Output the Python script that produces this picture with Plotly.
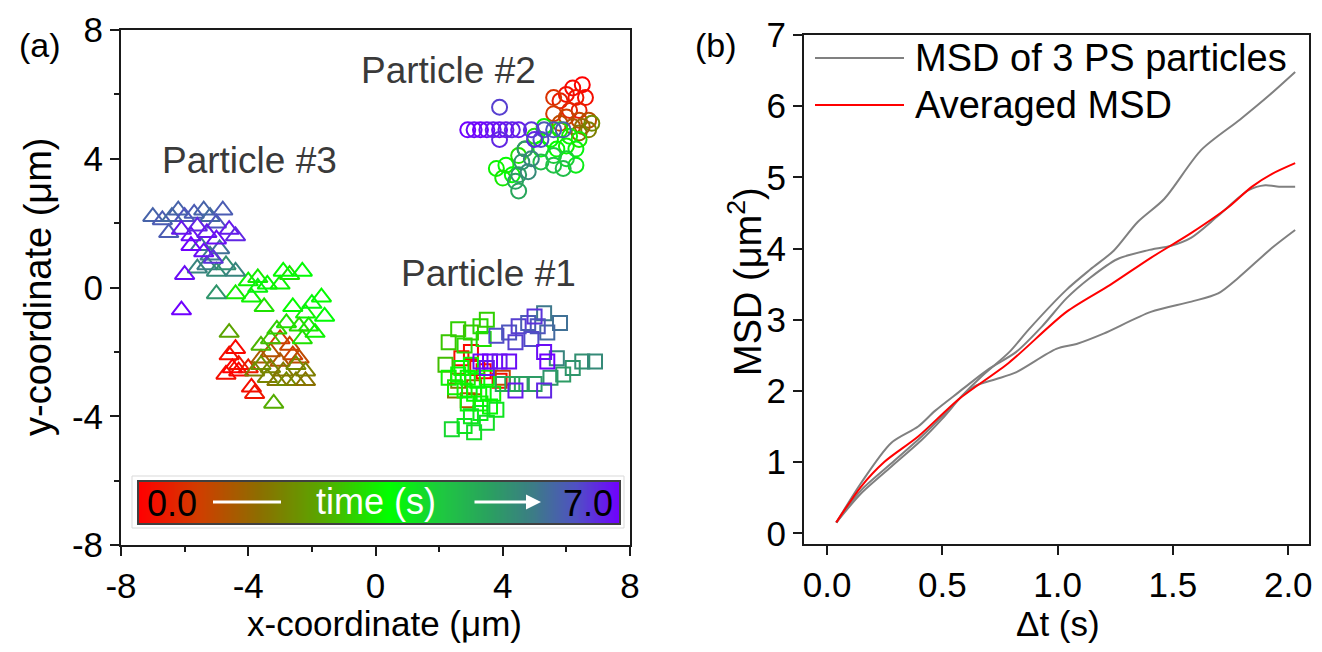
import plotly.graph_objects as go

# page has an 8px body margin; figure is sized so the page fits the window exactly
OFF = 8
W, H = 1322 - 2 * OFF, 652 - 2 * OFF

# ---------------- data: particle trajectories (x, y in um, t in s) ----------------
p1_x = [3.0, 2.7, 3.2, 3.9, 3.4,
        2.5, 2.9, 4.0, 2.6, 3.1,
        2.3, 2.6, 3.0, 3.3, 3.5, 2.8, 2.2, 3.4,
        2.3, 2.6, 2.9, 3.2, 3.5, 2.5, 2.8, 3.1, 3.4, 3.7, 2.9, 3.3, 3.6, 2.7, 3.0,
        3.0, 3.3, 3.5, 2.4, 2.8, 3.1, 3.8,
        4.0, 4.3, 4.6, 5.0, 5.5, 5.9, 6.2, 6.5, 6.9, 5.7,
        5.3, 5.8, 5.4,
        3.8, 4.2, 4.5, 4.8, 5.1, 4.9, 4.4, 5.0,
        3.3, 3.6, 3.9, 4.2, 3.5, 5.3, 5.4, 4.4, 5.3]
p1_y = [-2.0, -2.2, -2.5, -2.9, -2.6,
        -3.2, -3.5, -2.8, -2.9, -3.1,
        -1.7, -1.3, -1.4, -1.2, -1.0, -1.8, -2.4, -1.6,
        -2.8, -2.7, -2.8, -2.9, -2.8, -3.1, -3.2, -3.3, -3.3, -3.3, -3.6, -3.6, -3.7, -2.5, -2.4,
        -4.0, -3.9, -4.2, -4.4, -4.3, -4.5, -3.8,
        -3.0, -3.0, -3.0, -3.0, -2.8, -2.7, -2.5, -2.3, -2.3, -2.2,
        -0.8, -1.1, -1.4,
        -1.5, -1.4, -1.2, -1.1, -1.2, -1.6, -1.7, -0.9,
        -2.3, -2.3, -2.3, -2.3, -2.5, -2.0, -2.3, -3.2, -3.2]
p1_t = [0.1, 0.2, 0.3, 0.2, 0.0,
        1.8, 1.2, 1.0, 2.0, 1.5,
        3.0, 3.1, 3.0, 3.2, 3.1, 3.2, 2.9, 3.3,
        3.5, 3.6, 3.5, 3.7, 3.6, 3.4, 3.5, 3.6, 3.8, 3.5, 3.7, 3.5, 3.6, 3.5, 3.6,
        4.0, 3.9, 4.1, 4.2, 4.0, 4.1, 4.0,
        5.0, 4.9, 5.1, 5.2, 5.3, 5.2, 5.3, 5.4, 5.5, 5.6,
        5.8, 5.9, 6.0,
        6.4, 6.3, 6.5, 6.2, 6.3, 6.4, 6.5, 6.6,
        6.9, 7.0, 6.8, 6.9, 6.8, 6.9, 7.0, 6.8, 6.7]

p2_x = [6.5, 6.2, 6.0, 6.3, 5.8, 6.6, 6.1, 6.4, 5.6,
        5.6, 6.0, 6.4, 6.7, 5.8, 6.2,
        6.7, 6.4, 6.8, 6.5,
        5.3, 5.0, 5.5, 5.8, 6.1, 4.7, 5.2, 5.7, 6.0, 6.3, 6.4, 3.8, 4.1, 4.3, 4.0, 6.3, 4.5,
        5.6, 5.9, 5.6, 6.0, 5.2,
        4.7, 4.6, 4.5, 4.4, 4.5, 4.8, 4.9,
        5.3, 5.6, 5.9, 5.2, 3.9,
        2.9, 3.1, 3.3, 3.5, 3.7, 3.9, 4.1, 4.3, 4.5, 3.9, 4.9, 5.0]
p2_y = [6.3, 6.2, 6.0, 5.9, 5.8, 5.9, 5.5, 5.5, 5.9,
        5.4, 5.3, 5.2, 5.2, 5.1, 5.0,
        4.9, 4.8, 5.1, 5.0,
        5.0, 4.7, 4.6, 4.9, 4.7, 4.3, 4.3, 4.3, 4.4, 4.3, 4.6, 3.7, 3.8, 3.5, 3.4, 3.8, 4.1,
        3.8, 3.7, 4.1, 4.0, 3.9,
        4.3, 3.9, 3.5, 3.3, 3.0, 3.6, 4.0,
        4.9, 4.9, 4.9, 4.6, 5.6,
        4.9, 4.9, 4.9, 4.9, 4.9, 4.9, 4.9, 4.9, 4.9, 4.6, 4.9, 4.6]
p2_t = [0.0, 0.1, 0.2, 0.3, 0.4, 0.2, 0.5, 0.4, 0.7,
        0.8, 0.9, 1.0, 1.2, 1.1, 1.3,
        2.0, 1.8, 2.2, 1.6,
        3.5, 3.3, 3.6, 3.4, 3.5, 3.2, 3.7, 3.6, 3.5, 3.8, 3.4, 3.5, 3.6, 3.7, 3.4, 3.9, 3.3,
        4.5, 4.6, 4.4, 4.3, 4.6,
        5.4, 5.3, 5.2, 5.1, 5.0, 5.5, 5.6,
        6.2, 6.3, 6.1, 6.4, 6.5,
        7.0, 6.9, 7.0, 6.9, 6.8, 6.9, 6.8, 6.7, 6.8, 6.7, 6.6, 6.7]

p3_x = [-4.4, -4.6, -4.3, -4.7, -4.3, -4.0, -3.9, -3.8, -4.5,
        -3.0, -2.7, -3.3, -2.6, -3.0, -2.4, -3.6,
        -3.8, -3.4, -3.1, -2.8, -2.5, -2.2, -3.6, -3.3, -2.9, -2.5, -2.2,
        -4.6, -3.2, -3.6, -3.3,
        -4.0, -3.7, -3.4, -3.0, -2.7, -2.3, -2.9, -4.4, -3.9, -3.5, -2.6, -2.2, -2.0,
        -1.7, -1.6, -2.1, -2.4, -2.8, -3.1, -1.9, -2.3, -3.7,
        -5.0, -5.6, -5.3, -5.0, -4.7, -4.4, -5.2, -4.9, -5.5,
        -7.0, -6.7, -6.4, -6.2, -6.0, -5.7, -5.4, -5.2, -4.8, -6.5, -5.0,
        -6.1, -5.8, -5.6, -5.3, -5.0, -4.6, -4.4, -5.8, -5.4, -6.0, -6.1, -5.1]
p3_y = [-1.9, -2.1, -2.4, -2.7, -2.6, -2.5, -3.1, -3.3, -2.5,
        -1.6, -1.8, -2.0, -2.1, -2.3, -2.2, -2.2,
        -2.6, -2.8, -2.9, -2.9, -2.9, -2.9, -2.4, -2.5, -2.6, -2.4, -2.6,
        -1.4, -3.6, -1.8, -1.6,
        0.2, 0.3, 0.1, 0.1, 0.4, 0.5, 0.5, -0.2, -0.3, -0.6, -0.6, -0.8, -0.5,
        -0.3, -0.9, -1.2, -1.2, -1.1, -1.3, -1.4, -1.6, 0.0,
        -0.2, 0.6, 0.7, 0.5, 0.7, 0.5, 1.0, 1.2, 1.3,
        2.2, 2.1, 2.2, 2.4, 2.2, 2.3, 2.4, 2.2, 2.4, 1.7, 2.0,
        1.8, 1.6, 1.9, 1.7, 1.5, 1.8, 1.6, 1.3, 1.1, 0.4, -0.7, 0.9]
p3_t = [0.1, 0.2, 0.3, 0.2, 0.1, 0.4, 0.2, 0.3, 0.0,
        0.8, 1.0, 1.2, 0.9, 1.3, 1.1, 1.4,
        2.0, 2.1, 1.9, 2.2, 2.0, 1.8, 2.3, 2.1, 1.9, 2.2, 2.0,
        2.6, 2.7, 2.8, 2.9,
        3.5, 3.4, 3.6, 3.5, 3.3, 3.7, 3.6, 3.4, 3.5, 3.3, 3.6, 3.5, 3.8,
        3.6, 3.7, 3.4, 3.2, 3.3, 3.1, 3.5, 3.3, 3.8,
        5.3, 5.6, 5.7, 5.5, 5.4, 5.6, 5.8, 5.9, 5.9,
        6.1, 6.2, 6.0, 6.1, 6.3, 6.2, 6.1, 6.0, 6.2, 6.2, 6.3,
        6.8, 6.9, 6.7, 6.8, 6.9, 6.8, 6.7, 7.0, 6.9, 6.9, 7.0, 6.6]

particle_labels = ["Particle #1", "Particle #2", "Particle #3"]
label_x = [3.55, 2.3, -3.95]
label_y = [0.45, 6.75, 3.95]

# ---------------- data: MSD curves (dt in s, MSD in um^2) ----------------
g1_t = [0.04, 0.146, 0.278, 0.41, 0.497, 0.585, 0.672, 0.79, 0.878, 1.038, 1.141, 1.243, 1.346, 1.463, 1.623, 1.79, 1.92, 2.03]
g1_m = [0.15, 0.556, 0.935, 1.31, 1.60, 1.93, 2.21, 2.545, 2.876, 3.42, 3.705, 3.97, 4.37, 4.70, 5.386, 5.81, 6.16, 6.48]
g2_t = [0.04, 0.146, 0.278, 0.395, 0.468, 0.57, 0.702, 0.819, 0.936, 1.038, 1.141, 1.258, 1.39, 1.492, 1.58, 1.696, 1.828, 1.90, 1.96, 2.03]
g2_m = [0.15, 0.70, 1.27, 1.50, 1.72, 1.98, 2.31, 2.545, 2.92, 3.30, 3.59, 3.85, 3.975, 4.04, 4.155, 4.46, 4.82, 4.89, 4.87, 4.87]
g3_t = [0.04, 0.146, 0.278, 0.41, 0.51, 0.585, 0.643, 0.731, 0.819, 0.994, 1.082, 1.199, 1.404, 1.58, 1.696, 1.784, 1.93, 2.03]
g3_m = [0.15, 0.60, 0.98, 1.36, 1.68, 1.93, 2.07, 2.165, 2.26, 2.59, 2.66, 2.805, 3.11, 3.255, 3.37, 3.59, 4.01, 4.26]
avg_t = [0.04, 0.146, 0.249, 0.395, 0.57, 0.79, 1.038, 1.228, 1.404, 1.58, 1.74, 1.843, 1.93, 2.03]
avg_m = [0.154, 0.65, 1.005, 1.36, 1.88, 2.40, 3.11, 3.49, 3.87, 4.22, 4.58, 4.87, 5.05, 5.20]

x_ticks_a = [-8, -4, 0, 4, 8]
y_ticks_a = [-8, -4, 0, 4, 8]
ticktext_a = ["-8", "-4", "0", "4", "8"]
minor_a = [-6, -2, 2, 6]
x_ticks_b = [0, 0.5, 1.0, 1.5, 2.0]
x_ticktext_b = ["0.0", "0.5", "1.0", "1.5", "2.0"]
y_ticks_b = [0, 1, 2, 3, 4, 5, 6, 7]
time_range = [0, 7]

# ---------------- styling ----------------
FONT = "Liberation Sans, Arial, Helvetica, sans-serif"
TICKSIZE = 35
TITLESIZE = 38
CS = [[0.0, '#ff0000'], [0.12, '#d23c00'], [0.25, '#8c6e00'], [0.38, '#58a800'],
      [0.52, '#00ff00'], [0.63, '#1ec840'], [0.73, '#2aa060'], [0.82, '#3c7c86'],
      [0.91, '#5050c4'], [1.0, '#7000ff']]


def fx(p):
    return (p - OFF) / W


def fy(p):
    return 1 - (p - OFF) / H


fig = go.Figure()

# particle trajectories
for xs, ys, ts, sym, sz in [(p3_x, p3_y, p3_t, 'triangle-up-open', 17),
                            (p1_x, p1_y, p1_t, 'square-open', 14),
                            (p2_x, p2_y, p2_t, 'circle-open', 15)]:
    fig.add_trace(go.Scatter(
        x=xs, y=ys, mode='markers', xaxis='x', yaxis='y', showlegend=False,
        marker=dict(symbol=sym, size=sz, color=ts, colorscale=CS,
                    cmin=time_range[0], cmax=time_range[1], line=dict(width=2)),
        hoverinfo='skip'))

# time colour bar
fig.add_trace(go.Heatmap(
    z=[time_range, time_range], x=time_range, y=[0, 1], zsmooth='best',
    colorscale=CS, zmin=time_range[0], zmax=time_range[1], showscale=False,
    xaxis='x3', yaxis='y3', hoverinfo='skip'))

# MSD curves
for ts, ms in [(g1_t, g1_m), (g2_t, g2_m), (g3_t, g3_m)]:
    fig.add_trace(go.Scatter(x=ts, y=ms, mode='lines', xaxis='x2', yaxis='y2',
                             line=dict(color='#808080', width=2, shape='spline', smoothing=0.8),
                             showlegend=False, hoverinfo='skip'))
fig.add_trace(go.Scatter(x=avg_t, y=avg_m, mode='lines', xaxis='x2', yaxis='y2',
                         line=dict(color='#ff0000', width=2, shape='spline', smoothing=0.8),
                         showlegend=False, hoverinfo='skip'))

axis_common = dict(showline=True, mirror=True, linewidth=2, linecolor='#1a1a1a',
                   ticks='outside', ticklen=9, tickwidth=2, tickcolor='#1a1a1a',
                   showgrid=False, zeroline=False, automargin=False,
                   tickfont=dict(size=TICKSIZE, color='#000000', family=FONT))
minor_common = dict(tickvals=minor_a, ticks='outside', ticklen=5, tickwidth=2,
                    tickcolor='#1a1a1a', showgrid=False)
bar_axis = dict(showticklabels=False, ticks='', showgrid=False, zeroline=False, automargin=False,
                showline=True, mirror=True, linewidth=1.5, linecolor='#404040')

fig.update_layout(
    width=W, height=H, margin=dict(l=0, r=0, t=0, b=0, autoexpand=False),
    paper_bgcolor='white', plot_bgcolor='white',
    font=dict(family=FONT, color='#000000'),
    xaxis=dict(domain=[fx(121), fx(630)], range=[-8, 8], tickvals=x_ticks_a, ticktext=ticktext_a,
               anchor='y', minor=minor_common, **axis_common),
    yaxis=dict(domain=[fy(545), fy(30)], range=[-8, 8], tickvals=y_ticks_a, ticktext=ticktext_a,
               anchor='x', minor=minor_common, **axis_common),
    xaxis2=dict(domain=[fx(804), fx(1309)], range=[-0.1, 2.09], tickvals=x_ticks_b,
                ticktext=x_ticktext_b, anchor='y2', **axis_common),
    yaxis2=dict(domain=[fy(544), fy(35)], range=[-0.15, 7.0], tickvals=y_ticks_b,
                anchor='x2', **axis_common),
    xaxis3=dict(domain=[fx(139), fx(619)], range=time_range, anchor='y3', **bar_axis),
    yaxis3=dict(domain=[fy(523), fy(482)], range=[0, 1], anchor='x3', **bar_axis),
)

shapes = [
    # faint frame around colour bar
    dict(type='rect', xref='paper', yref='paper', x0=fx(132), x1=fx(624), y0=fy(528), y1=fy(476),
         line=dict(color='#d9d9d9', width=1), fillcolor='rgba(0,0,0,0)', layer='above'),
    # white line on colour bar
    dict(type='line', xref='paper', yref='paper', x0=fx(213), x1=fx(281), y0=fy(502), y1=fy(502),
         line=dict(color='white', width=3), layer='above'),
    # manual legend lines
    dict(type='line', xref='paper', yref='paper', x0=fx(815), x1=fx(904), y0=fy(58), y1=fy(58),
         line=dict(color='#808080', width=2)),
    dict(type='line', xref='paper', yref='paper', x0=fx(815), x1=fx(904), y0=fy(105), y1=fy(105),
         line=dict(color='#ff0000', width=2)),
]
fig.update_layout(shapes=shapes)


def txt(text, px, py, size, color='#000000', angle=0, xanchor='center'):
    return dict(text=text, x=fx(px), y=fy(py), xref='paper', yref='paper', showarrow=False,
                xanchor=xanchor, yanchor='middle', textangle=angle,
                font=dict(size=size, color=color, family=FONT))


ann = []
# particle labels
for t, lx, ly in zip(particle_labels, label_x, label_y):
    ann.append(dict(text=t, x=lx, y=ly, xref='x', yref='y', showarrow=False,
                    xanchor='center', yanchor='middle',
                    font=dict(size=37, color='#3a3a3a', family=FONT)))
# colour bar texts
ann.append(txt('0.0', 172, 503, 36, 'black'))
ann.append(txt('time (s)', 376, 501, 36, 'white'))
ann.append(txt('7.0', 588, 503, 36, 'black'))
ann.append(dict(text='', x=fx(541), y=fy(502), xref='paper', yref='paper', showarrow=True,
                ax=-68, ay=0, arrowhead=2, arrowsize=1, arrowwidth=3, arrowcolor='white'))
# axis titles
ann.append(txt('x-coordinate (\u03bcm)', 384, 623, 35))
ann.append(txt('y-coordinate (\u03bcm)', 38, 287, TITLESIZE, angle=-90))
ann.append(txt('\u0394t (s)', 1058, 623, 35))
ann.append(txt('MSD (\u03bcm<sup>2</sup>)', 745, 282, TITLESIZE, angle=-90))
# panel labels
ann.append(txt('(a)', 40, 45, 34))
ann.append(txt('(b)', 716, 45, 34))
# legend texts
ann.append(txt('MSD of 3 PS particles', 913, 58, TITLESIZE, xanchor='left'))
ann.append(txt('Averaged MSD', 913, 105, TITLESIZE, xanchor='left'))
fig.update_layout(annotations=ann)

fig.write_html("out.html")
